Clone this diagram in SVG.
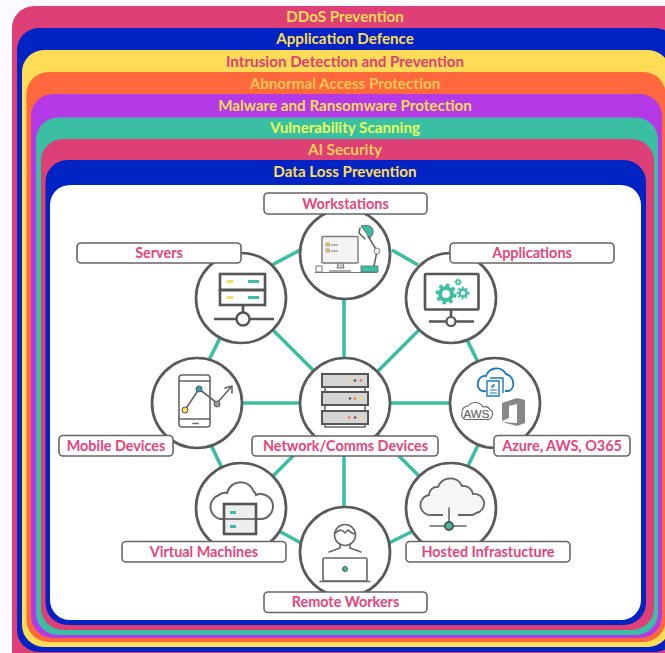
<svg xmlns="http://www.w3.org/2000/svg" width="665" height="653" viewBox="0 0 665 653">
<style>
.band{font:700 15.2px "Lato","Liberation Sans",sans-serif;text-anchor:middle}
.lb rect{fill:#fff;stroke:#666;stroke-width:1.6}
.lb text{font:700 14.4px "Lato","Liberation Sans",sans-serif;text-anchor:middle;fill:#e6457a}
.c{fill:#fff;stroke:#5a5a5a;stroke-width:2.700}
.l{fill:none;stroke:#666;stroke-width:1.6;stroke-linecap:round;stroke-linejoin:round}
.h{fill:none;stroke:#555;stroke-width:2.6}
.t{fill:#3bbfa3}
.y{fill:#ffdc55}
#conn line{stroke:#3bbfa3;stroke-width:3.600}
</style>
<rect width="665" height="653" fill="#fafaff"/>
<g id="layers">
<rect x="12" y="6" width="680" height="680" rx="22" fill="#de3f76"/>
<rect x="17" y="28" width="660" height="624" rx="22" fill="#0024c4"/>
<rect x="22" y="50" width="648" height="597" rx="22" fill="#ffdc55"/>
<rect x="26.500" y="72" width="639" height="570" rx="22" fill="#ff673c"/>
<rect x="31" y="94" width="631" height="544" rx="22" fill="#b33ae6"/>
<rect x="36" y="117.500" width="622" height="517.500" rx="22" fill="#3bbfa3"/>
<rect x="41" y="139" width="613" height="491" rx="22" fill="#de3f76"/>
<rect x="45.500" y="160" width="600.500" height="465" rx="22" fill="#0024c4"/>
<rect x="50" y="185" width="591" height="435" rx="20" fill="#fff"/>
<text class="band" x="345" y="22" fill="#ffdc55">DDoS Prevention</text>
<text class="band" x="345" y="44" fill="#ffdc55">Application Defence</text>
<text class="band" x="345" y="67" fill="#de3f76">Intrusion Detection and Prevention</text>
<text class="band" x="345" y="89" fill="#ffc654">Abnormal Access Protection</text>
<text class="band" x="345" y="111" fill="#ffdc55">Malware and Ransomware Protection</text>
<text class="band" x="345" y="133" fill="#e8ff5a">Vulnerability Scanning</text>
<text class="band" x="345" y="155" fill="#ffcf55">AI Security</text>
<text class="band" x="345" y="177" fill="#ffdc55">Data Loss Prevention</text>
</g>
<g id="conn">
<line x1="344" y1="254" x2="344" y2="552"/>
<line x1="241" y1="298" x2="451" y2="508"/>
<line x1="451" y1="298" x2="241" y2="508"/>
<line x1="197" y1="403" x2="495" y2="403"/>
<line x1="392" y1="250" x2="418" y2="265"/>
<line x1="467" y1="340" x2="478" y2="362"/>
<line x1="478" y1="445" x2="467" y2="468"/>
<line x1="413" y1="531" x2="389" y2="543"/>
<line x1="301" y1="543" x2="279" y2="531"/>
<line x1="222" y1="468" x2="211" y2="445"/>
<line x1="209" y1="360" x2="220" y2="338"/>
<line x1="272" y1="265" x2="300" y2="250"/>
</g>
<g id="workstations">
<circle class="c" cx="345" cy="254" r="45"/>
<rect x="322" y="236.500" width="36" height="26.500" rx="1" fill="#f4f4f4" stroke="#777" stroke-width="1.400"/>
<rect x="326" y="243" width="3.500" height="3" class="y" stroke="#777" stroke-width=".6"/><rect x="326" y="249" width="3.500" height="3" class="y" stroke="#777" stroke-width=".6"/>
<path d="M331 245h7M331 251h7" stroke="#777" stroke-width="1"/>
<path d="M338 263h5l1 5h-7z" fill="#ccc" stroke="#777"/>
<rect x="329" y="270" width="22" height="2" fill="#aaa"/>
<path d="M315 272.500h62" stroke="#777" stroke-width="1.200"/>
<rect x="316" y="266" width="6" height="6" fill="#fff" stroke="#777"/>
<path d="M368 236l9 15-3 15" class="l" stroke-width="1.200"/>
<circle cx="377" cy="251" r="3" fill="#eee" stroke="#888"/>
<path d="M361 226q8-2 11 2t-2 10z" class="t" stroke="#666"/>
<path d="M360 228l-1 5 6 6" class="l"/>
<rect x="361" y="266" width="17" height="6" class="t" stroke="#666" stroke-width=".8"/>
</g>
<g id="servers">
<circle class="c" cx="241" cy="298" r="45"/>
<rect x="220" y="274" width="45" height="16" fill="#fff" class="h"/><rect x="220" y="290" width="45" height="15" fill="#fff" class="h"/>
<rect x="227" y="280" width="6" height="3" class="y"/><rect x="248" y="280" width="11" height="3" class="t"/>
<rect x="227" y="296" width="6" height="3" class="y"/><rect x="248" y="296" width="11" height="3" class="t"/>
<path d="M243 305v7M214 319h60" class="h"/><circle cx="243" cy="319" r="6.500" fill="#fff" stroke="#555" stroke-width="2.400"/>
</g>
<g id="applications">
<circle class="c" cx="451" cy="298" r="45"/>
<rect x="425" y="274" width="53.500" height="35.500" rx="1" fill="#fff" class="h"/>
<path d="M451 309v10M429 321.500h17.500M455.500 321.500h18.500" class="h"/>
<circle cx="451" cy="321.500" r="4.500" fill="#fff" stroke="#555" stroke-width="2.200"/>
<circle cx="446" cy="294" r="6" fill="none" stroke="#3bbfa3" stroke-width="4"/><circle cx="446" cy="294" r="9" fill="none" stroke="#3bbfa3" stroke-width="3" stroke-dasharray="3.500 3.500"/>
<circle cx="463" cy="293" r="3.500" fill="none" stroke="#3bbfa3" stroke-width="2.500"/><circle cx="463" cy="293" r="5.500" fill="none" stroke="#3bbfa3" stroke-width="1.800" stroke-dasharray="2 2"/>
<circle cx="458" cy="282" r="2" fill="none" stroke="#3bbfa3" stroke-width="1.500"/><circle cx="458" cy="282" r="3.200" fill="none" stroke="#3bbfa3" stroke-width="1" stroke-dasharray="1.500 1.500"/>
</g>
<g id="mobile">
<circle class="c" cx="197" cy="403" r="45"/>
<rect x="179" y="375" width="31" height="52" rx="3" fill="#fff" class="l"/>
<path d="M179 381h31M179 419h31M193 423.500h5" class="l"/>
<path d="M185 410l14-21 18 14 15-17M225 388l7-2 0 7" class="l"/>
<circle cx="185" cy="410" r="3" class="y" stroke="#555"/><circle cx="199" cy="389" r="3" fill="#2f9fc0" stroke="#555"/><circle cx="217" cy="404" r="3" fill="#999" stroke="#555"/>
</g>
<g id="network">
<circle class="c" cx="345" cy="403" r="45"/>
<g fill="#d5d5d5" stroke="#555" stroke-width="2">
<rect x="322" y="374" width="46" height="13"/><rect x="322" y="392" width="46" height="13"/><rect x="322" y="411" width="46" height="13"/>
</g>
<path d="M325 387v4M365 387v4M325 405v5M365 405v5M325 424v3h40v-3" class="l"/>
<g>
<circle cx="349" cy="380.500" r="1.300" fill="#ffdc55"/><circle cx="355" cy="380.500" r="1.300" fill="#555"/><circle cx="361" cy="380.500" r="1.300" fill="#ff673c"/>
<circle cx="350" cy="398.500" r="1.300" fill="#555"/><circle cx="355" cy="398.500" r="1.300" fill="#ff673c"/><circle cx="361" cy="398.500" r="1.300" fill="#ffdc55"/>
<circle cx="349" cy="417.500" r="1.300" fill="#ff673c"/><circle cx="355" cy="417.500" r="1.300" fill="#555"/><circle cx="361" cy="417.500" r="1.300" fill="#ffdc55"/>
</g>
</g>
<g id="azure">
<circle class="c" cx="495" cy="403" r="45"/>
<path d="M486 391a6.500 6.500 0 0 1-8-8 7 7 0 0 1 8-7 11 11 0 0 1 20-2 9 9 0 0 1 7 9 7 7 0 0 1-4 8h-4" fill="#fff" stroke="#1c79bd" stroke-width="1.800"/>
<path d="M490 378h13v15M487 381h12v15h-12z" fill="#fff" stroke="#1c79bd" stroke-width="1.400"/>
<path d="M490 390h7M490 393h7M491 387l3-3v3z" stroke="#1c79bd" fill="none" stroke-width="1"/>
<path d="M468 419.500h18a5.500 5.500 0 0 0 4-10 6 6 0 0 0-7-2.500 9 9 0 0 0-15-1 6 6 0 0 0-6 7 5 5 0 0 0 6 6.500z" fill="#fff" stroke="#666" stroke-width="1.100"/>
<text x="476.500" y="417.500" font-family="'Liberation Sans',sans-serif" font-size="11.500" text-anchor="middle" fill="#666" stroke="#666" stroke-width=".2">AWS</text>
<path d="M502 403l15-5 8 2v23l-8 3-15-4 15 1v-19l-8 2v12l-7 3z" fill="#888"/>
</g>
<g id="vm">
<circle class="c" cx="241" cy="508" r="45"/>
<path d="M224 519h-4a12.500 12.500 0 0 1-1-24 10 10 0 0 1 8-2 14 14 0 0 1 27-1 3 3 0 0 1 2 3 12 12 0 0 1 4-1 12.500 12.500 0 0 1 1 25h-5" fill="#fff" stroke="#666" stroke-width="2"/>
<rect x="224" y="504" width="32" height="30" fill="#eee" stroke="#555" stroke-width="2.600"/><path d="M224 519h32" stroke="#555" stroke-width="1.500"/>
<rect x="230" y="511" width="6" height="3" class="t"/><rect x="230" y="525" width="6" height="3" class="t"/>
</g>
<g id="hosted">
<circle class="c" cx="451" cy="508" r="45"/>
<path d="M443 515h-11a10 10 0 0 1-3-20 8 8 0 0 1 9-8 13 13 0 0 1 24-1 10 10 0 0 1 11 8 9 9 0 0 1 3 19 9 9 0 0 1-4 2h-14" fill="#f6f6f6" stroke="#666" stroke-width="1.800"/>
<path d="M449 508v17M430 526h36" class="l"/><circle cx="449" cy="526" r="4" class="t" stroke="#555" stroke-width="2"/>
</g>
<g id="remote">
<circle class="c" cx="345" cy="552" r="45"/>
<circle cx="345" cy="535" r="10.500" fill="#fff" class="l"/>
<path d="M335 533l5-3 3 1 2 2 3-3 4 3 3 1M340 545v3l-11 4M350 545v3l11 4" class="l"/>
<rect x="323" y="558" width="44" height="23" rx="1.500" fill="#fff" class="l"/><path d="M320 581.500h50" class="l"/><circle cx="345" cy="569" r="2.500" class="t" stroke="#555"/>
</g>
<g class="lb">
<g id="lb-workstations"><rect x="264" y="193" width="163" height="21" rx="4"/><text x="345.500" y="209">Workstations</text></g>
<g id="lb-servers"><rect x="77" y="243" width="164" height="20" rx="4"/><text x="159" y="258">Servers</text></g>
<g id="lb-applications"><rect x="450" y="243" width="164" height="20" rx="4"/><text x="532" y="258">Applications</text></g>
<g id="lb-mobile"><rect x="59" y="435.500" width="114" height="20.500" rx="4"/><text x="116" y="451">Mobile Devices</text></g>
<g id="lb-network"><rect x="252" y="436" width="186" height="20" rx="4"/><text x="345.500" y="451">Network/Comms Devices</text></g>
<g id="lb-azure"><rect x="494" y="435.500" width="136" height="20.500" rx="4"/><text x="562" y="451">Azure, AWS, O365</text></g>
<g id="lb-vm"><rect x="122" y="541.500" width="164" height="20.500" rx="4"/><text x="204" y="557">Virtual Machines</text></g>
<g id="lb-hosted"><rect x="406" y="541.500" width="164" height="20.500" rx="4"/><text x="488" y="557">Hosted Infrastucture</text></g>
<g id="lb-remote"><rect x="264" y="592" width="163" height="20.500" rx="4"/><text x="345.500" y="607">Remote Workers</text></g>
</g>
</svg>
